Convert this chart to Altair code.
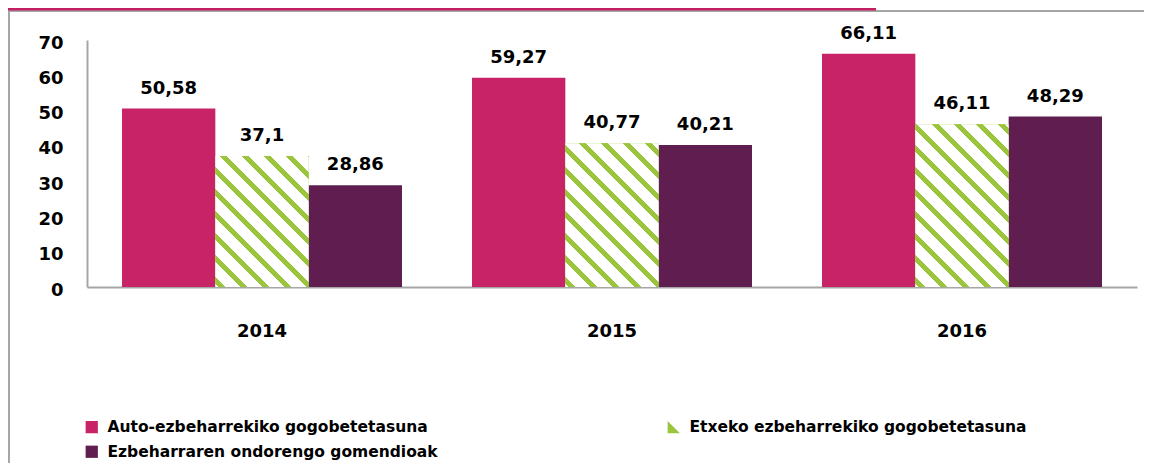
import altair as alt
import pandas as pd

# ---- data ----
years = ["2014", "2015", "2016"]
series = [
    "Auto-ezbeharrekiko gogobetetasuna",
    "Etxeko ezbeharrekiko gogobetetasuna",
    "Ezbeharraren ondorengo gomendioak",
]
auto_vals = [50.58, 59.27, 66.11]
etxeko_vals = [37.1, 40.77, 46.11]
gomendio_vals = [28.86, 40.21, 48.29]
y_ticks = [0, 10, 20, 30, 40, 50, 60, 70]

rows = []
for s, vals in zip(series, [auto_vals, etxeko_vals, gomendio_vals]):
    for yr, v in zip(years, vals):
        rows.append({"year": yr, "series": s, "value": v,
                     "label": f"{v:g}".replace(".", ",")})
df = pd.DataFrame(rows)

# ---- style ----
PINK = "#C82367"
GREEN = "#9BC53D"
PURPLE = "#5F1E4F"
BANNER = "#C41F63"
GRAY = "#A6A6A6"
FONT = "DejaVu Sans"
W, H = 1050, 247
YMAX = 70
BAR_W = W / 3 * 0.8 / 3


def hatch(h, w, period=22.0, frac=0.3, phase=0.15):
    a = w / h
    s = (a + 1) / (a * a + 1)
    x2, y2 = a * s, 1 - s
    T = period / (h * (a + 1))
    segs = []
    k = -1
    while True:
        g0 = (k + phase) * T
        g1 = g0 + frac * T
        e = (k + 1 + phase) * T
        if g0 >= 1:
            break
        for c0, c1, col in [(g0, g1, GREEN), (g1, e, "#FFFFFF")]:
            c0, c1 = max(c0, 0.0), min(c1, 1.0)
            if c1 > c0:
                segs.append((c0, c1, col))
        k += 1
    stops = []
    for c0, c1, col in segs:
        stops.append(alt.GradientStop(offset=round(c0, 5), color=col))
        stops.append(alt.GradientStop(offset=round(c1, 5), color=col))
    return alt.LinearGradient(gradient="linear", stops=stops,
                              x1=0, y1=1, x2=round(x2, 5), y2=round(y2, 5))


base = alt.Chart(df).encode(
    x=alt.X("year:N", sort=years,
            scale=alt.Scale(paddingInner=0.2, paddingOuter=0.1),
            axis=alt.Axis(title=None, labelAngle=0, ticks=False,
                          labelFont=FONT, labelFontWeight="bold",
                          labelFontSize=18, labelColor="#000000",
                          labelPadding=35, domainColor=GRAY, domainWidth=2)),
    xOffset=alt.XOffset("series:N", sort=series,
                        scale=alt.Scale(domain=series, paddingInner=0, paddingOuter=0)),
    y=alt.Y("value:Q",
            scale=alt.Scale(domain=[0, YMAX], nice=False),
            axis=alt.Axis(title=None, values=y_ticks, ticks=False, grid=False,
                          labelFont=FONT, labelFontWeight="bold",
                          labelFontSize=18, labelColor="#000000",
                          labelPadding=24, labelOffset=3,
                          domainColor=GRAY, domainWidth=2)),
)

# legend is laid out column-major: order entries so the reading matches
legend_order = [series[0], series[2], series[1]]
legend_colors = [PINK, PURPLE, GREEN]
tri = "M-1,-1L1,1L-1,1Z"
bars = base.mark_bar().encode(
    color=alt.Color(
        "series:N",
        sort=legend_order,
        scale=alt.Scale(domain=legend_order, range=legend_colors),
        legend=alt.Legend(
            title=None, orient="none", legendX=-3, legendY=379,
            columns=2, columnPadding=228, rowPadding=8, padding=0,
            symbolType={"expr": f"datum.value == '{series[1]}' ? '{tri}' : 'square'"},
            symbolSize=150, symbolStrokeWidth=0, symbolOpacity=1,
            labelFont=FONT, labelFontWeight="bold", labelFontSize=15.5,
            labelColor="#000000", labelOffset=8, labelLimit=600,
        ),
    )
)

hatches = []
for yr, v in zip(years, etxeko_vals):
    hatches.append(
        base.transform_filter(
            (alt.datum.year == yr) & (alt.datum.series == series[1])
        ).mark_bar(fill=hatch(v * H / YMAX, BAR_W))
    )

labels = base.mark_text(
    dy=-15, baseline="alphabetic", font=FONT, fontWeight="bold",
    fontSize=18, color="#000000",
).encode(text="label:N")

deco = pd.DataFrame({"d": [0]})
frame = alt.Chart(deco).mark_rect(filled=False, stroke=GRAY, strokeWidth=2).encode(
    x=alt.value(-78), x2=alt.value(W + 600), y=alt.value(-29), y2=alt.value(H + 600)
)
banner = alt.Chart(deco).mark_rect(color=BANNER).encode(
    x=alt.value(-79), x2=alt.value(789), y=alt.value(-40), y2=alt.value(-29.5)
)

chart = alt.layer(frame, banner, bars, *hatches, labels).properties(
    width=W, height=H,
    padding={"left": 79, "top": 32, "right": 7, "bottom": 176},
    autosize=alt.AutoSizeParams(type="none"),
).configure_view(stroke=None)

chart.save("out.html", embed_options={"renderer": "svg", "actions": False})
